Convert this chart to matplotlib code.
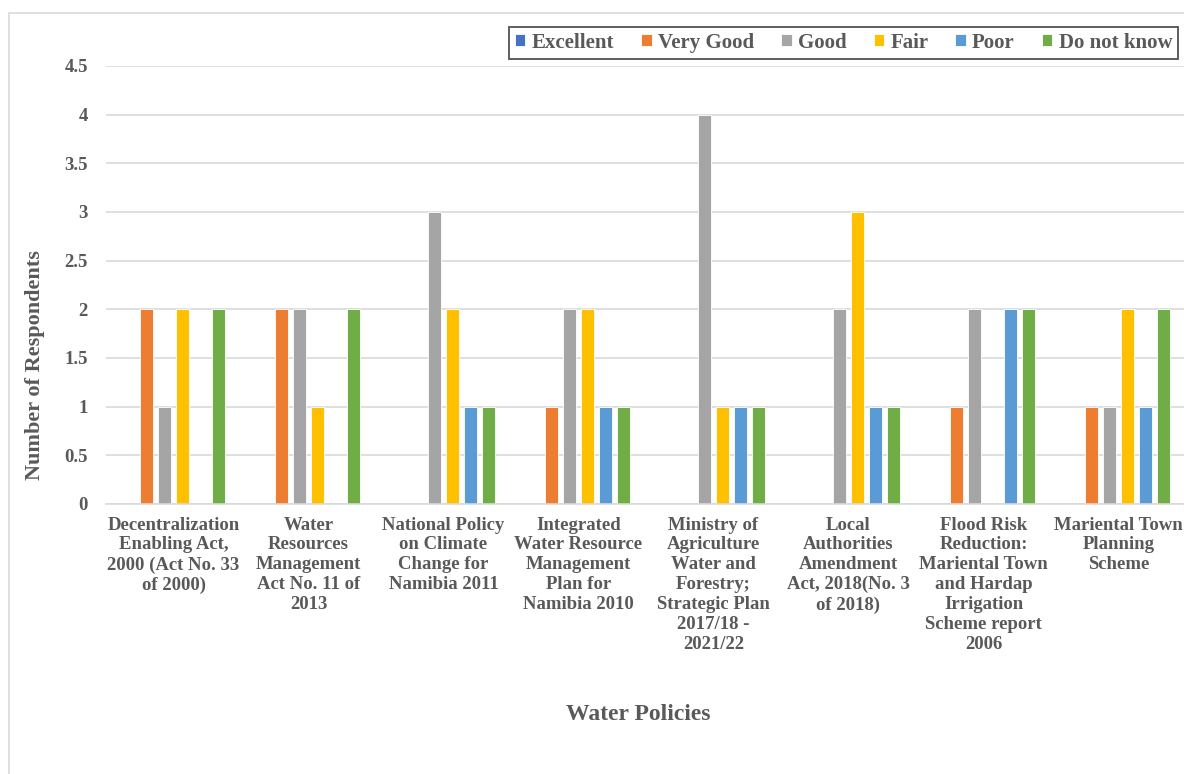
import matplotlib
matplotlib.use("Agg")
import matplotlib.pyplot as plt
from matplotlib.patches import Rectangle
import numpy as np

# ── Datos ─────────────────────────────────────────────────────────
politicas = [
    "Decentralization\nEnabling Act,\n2000 (Act No. 33\nof 2000)",
    "Water\nResources\nManagement\nAct No. 11 of\n2013",
    "National Policy\non Climate\nChange for\nNamibia 2011",
    "Integrated\nWater Resource\nManagement\nPlan for\nNamibia 2010",
    "Ministry of\nAgriculture\nWater and\nForestry;\nStrategic Plan\n2017/18 -\n2021/22",
    "Local\nAuthorities\nAmendment\nAct, 2018(No. 3\nof 2018)",
    "Flood Risk\nReduction:\nMariental Town\nand Hardap\nIrrigation\nScheme report\n2006",
    "Mariental Town\nPlanning\nScheme",
]
series = ["Excellent", "Very Good", "Good", "Fair", "Poor", "Do not know"]

excellent   = [0, 0, 0, 0, 0, 0, 0, 0]
very_good   = [2, 2, 0, 1, 0, 0, 1, 1]
good        = [1, 2, 3, 2, 4, 2, 2, 1]
fair        = [2, 1, 2, 2, 1, 3, 0, 2]
poor        = [0, 0, 1, 1, 1, 1, 2, 1]
do_not_know = [2, 2, 1, 1, 1, 1, 2, 2]

valores = [excellent, very_good, good, fair, poor, do_not_know]
colores = ["#4472C4", "#ED7D31", "#A5A5A5", "#FFC000", "#5B9BD5", "#70AD47"]

TEXT = "#595959"
GRID = "#D9D9D9"
FONT = "Liberation Serif"

W, H = 1184, 774
fig = plt.figure(figsize=(W / 100, H / 100), dpi=100, facecolor="white")

# marco exterior del gráfico
fig.patches.append(Rectangle((9 / W, -0.05), 1.1, 1 - 13 / H + 0.05,
                             transform=fig.transFigure, fill=False,
                             edgecolor=GRID, linewidth=1.2))

ax = fig.add_axes([106 / W, 270 / H, 1080 / W, 438 / H])
x = np.arange(len(politicas))
paso = 0.134
ancho = 0.1
for i, (nombre, vals, col) in enumerate(zip(series, valores, colores)):
    ax.bar(x + (i - 2.5) * paso, vals, width=ancho, color=col,
           edgecolor="white", linewidth=0.6, label=nombre, zorder=3)

ax.set_xlim(-0.5, len(politicas) - 0.5)
ax.set_ylim(0, 4.5)
ax.set_yticks(np.arange(0, 4.51, 0.5))
ax.set_yticklabels(["0", "0.5", "1", "1.5", "2", "2.5", "3", "3.5", "4", "4.5"])
ax.yaxis.grid(True, color=GRID, linewidth=1.2, zorder=0)
for lado in ["top", "right", "left"]:
    ax.spines[lado].set_visible(False)
ax.spines["bottom"].set_color(GRID)
ax.spines["bottom"].set_linewidth(1.2)
ax.spines["bottom"].set_zorder(4)

ax.tick_params(axis="y", length=0, pad=13, labelsize=13.5, labelcolor=TEXT)
ax.tick_params(axis="x", length=0, pad=9, labelsize=13.5, labelcolor=TEXT)
for t in ax.get_yticklabels():
    t.set_fontfamily(FONT)
    t.set_fontweight("bold")

ax.set_xticks(x)
ax.set_xticklabels(politicas, fontfamily=FONT, fontweight="bold",
                   linespacing=1.22, va="top")

fig.text(35 / W, 1 - 365 / H, "Number of Respondents", rotation=90,
         ha="center", va="center", color=TEXT, fontsize=16,
         fontfamily=FONT, fontweight="bold")
fig.text(638 / W, 1 - 715 / H, "Water Policies", ha="center", va="center",
         color=TEXT, fontsize=17, fontfamily=FONT, fontweight="bold")

leg = fig.legend(loc="upper right", bbox_to_anchor=(1178 / W, 1 - 27 / H),
                 borderaxespad=0, ncol=6, frameon=True, fancybox=False,
                 handlelength=0.5, handleheight=0.5, handletextpad=0.3,
                 columnspacing=1.3, borderpad=0.28,
                 prop={"family": FONT, "weight": "bold", "size": 15})
leg.get_frame().set_edgecolor("#262626")
leg.get_frame().set_linewidth(1.3)
for t in leg.get_texts():
    t.set_color(TEXT)

fig.savefig("out.png", dpi=100, facecolor="white")
